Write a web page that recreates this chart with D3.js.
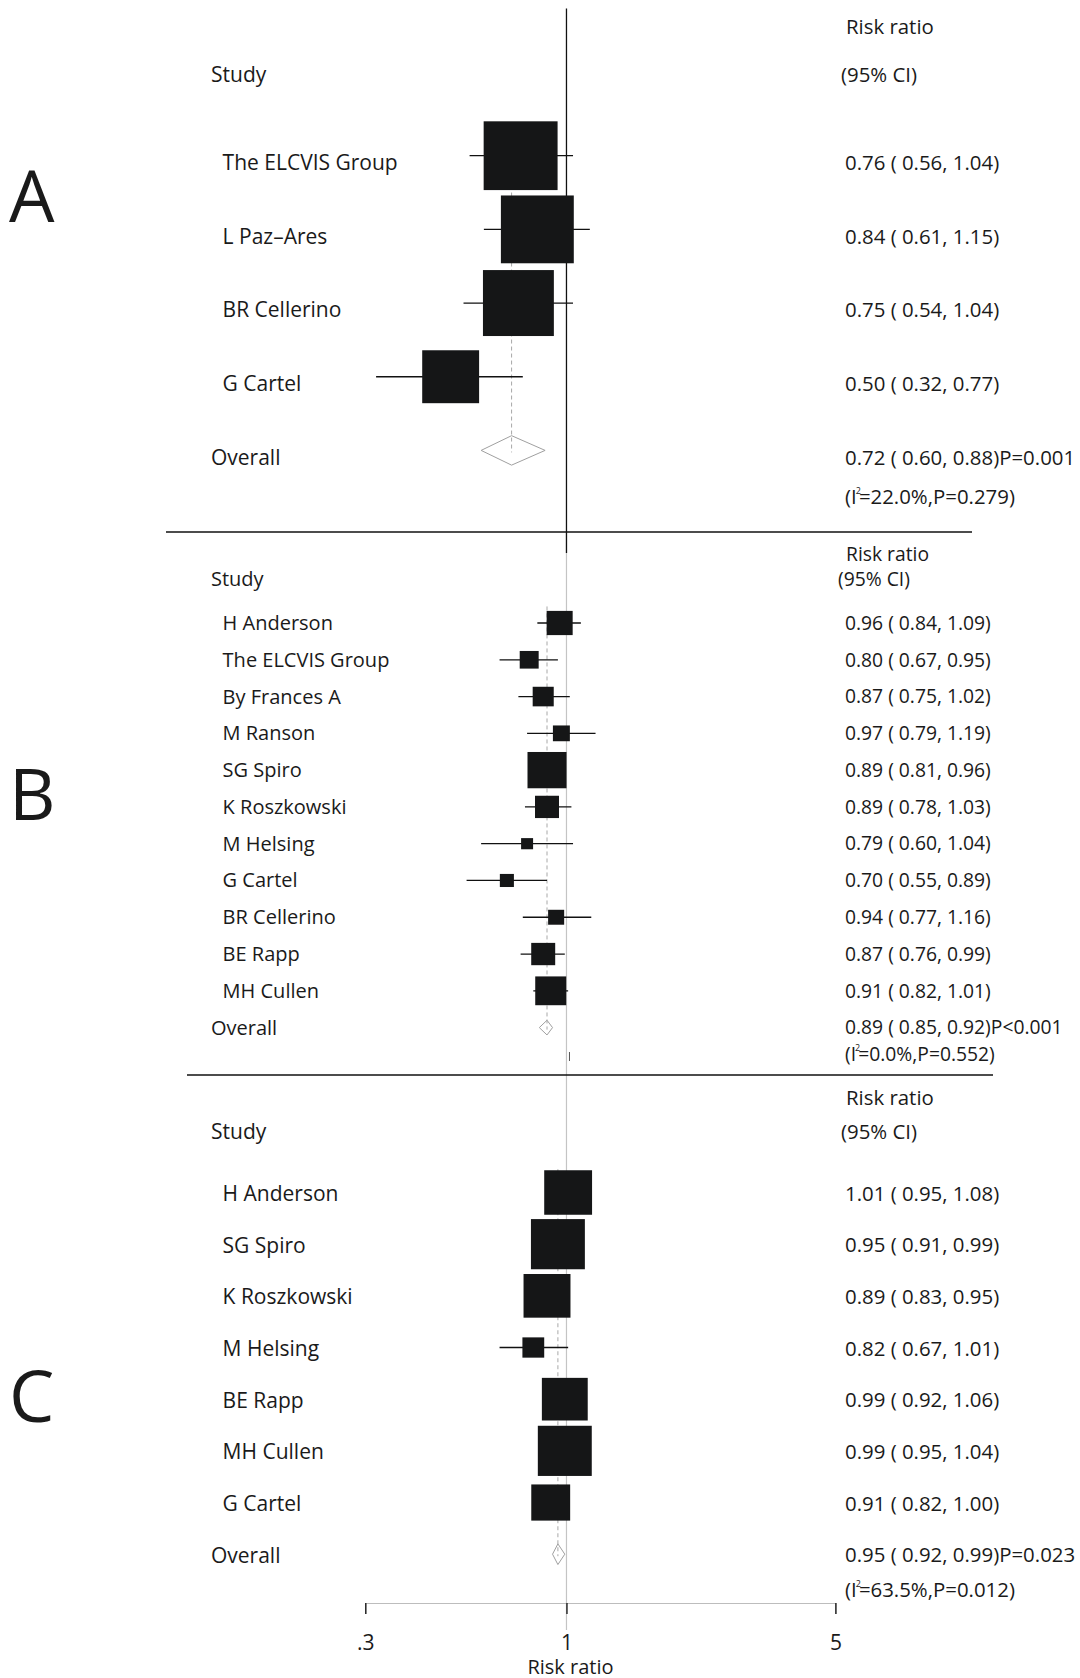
<!DOCTYPE html>
<html>
<head>
<meta charset="utf-8">
<script src="https://cdn.jsdelivr.net/npm/d3@7"></script>
<style>
  html, body { margin: 0; padding: 0; background: #fff; }
  svg { display: block; }
  text { font-family: "Open Sans", "Noto Sans", sans-serif; fill: #1a1a1a; }
</style>
</head>
<body>
<svg id="chart" width="1080" height="1678"></svg>
<script>
// ---- Data -----------------------------------------------------------------
// Panel A
const studiesA = ["The ELCVIS Group", "L Paz\u2013Ares", "BR Cellerino", "G Cartel"];
const rrA      = [0.76, 0.84, 0.75, 0.50];
const lowA     = [0.56, 0.61, 0.54, 0.32];
const highA    = [1.04, 1.15, 1.04, 0.77];
const weightA  = [28.7, 27.9, 26.4, 17.0];
const overallA = [0.72, 0.60, 0.88];
const pA = "P=0.001", i2A = "22.0%", hetPA = "0.279";

// Panel B
const studiesB = ["H Anderson", "The ELCVIS Group", "By Frances A", "M Ranson", "SG Spiro",
                  "K Roszkowski", "M Helsing", "G Cartel", "BR Cellerino", "BE Rapp", "MH Cullen"];
const rrB      = [0.96, 0.80, 0.87, 0.97, 0.89, 0.89, 0.79, 0.70, 0.94, 0.87, 0.91];
const lowB     = [0.84, 0.67, 0.75, 0.79, 0.81, 0.78, 0.60, 0.55, 0.77, 0.76, 0.82];
const highB    = [1.09, 0.95, 1.02, 1.19, 0.96, 1.03, 1.04, 0.89, 1.16, 0.99, 1.01];
const weightB  = [11.3, 6.0, 7.4, 4.8, 25.4, 9.6, 2.4, 3.3, 4.3, 9.6, 16.0];
const overallB = [0.89, 0.85, 0.92];
const pB = "P<0.001", i2B = "0.0%", hetPB = "0.552";

// Panel C
const studiesC = ["H Anderson", "SG Spiro", "K Roszkowski", "M Helsing", "BE Rapp", "MH Cullen", "G Cartel"];
const rrC      = [1.01, 0.95, 0.89, 0.82, 0.99, 0.99, 0.91];
const lowC     = [0.95, 0.91, 0.83, 0.67, 0.92, 0.95, 0.82];
const highC    = [1.08, 0.99, 0.95, 1.01, 1.06, 1.04, 1.00];
const weightC  = [15.9, 20.2, 15.3, 3.3, 14.6, 20.2, 10.5];
const overallC = [0.95, 0.92, 0.99];
const pC = "P=0.023", i2C = "63.5%", hetPC = "0.012";

// Shared axis
const xTicks = [0.3, 1, 5];
const xTickLabels = [".3", "1", "5"];
const axisTitle = "Risk ratio";

// ---- Layout ---------------------------------------------------------------
const svg = d3.select("#chart");
const x = d3.scaleLog().domain([0.3, 5]).range([365.3, 835.4]);
const fmt = d3.format(".2f");

const panels = [
  { letter: "A", letterY: 222, studies: studiesA, rr: rrA, low: lowA, high: highA, w: weightA,
    overall: overallA, p: pA, i2: i2A, hetP: hetPA,
    riskY: 27, studyY: 75, ciX: 841, firstY: 155.7, overallY: 450.4, textDy: 7, hetY: 497,
    fontSize: 21, valSize: 20.4, boxK: 13.8 },
  { letter: "B", letterY: 820, studies: studiesB, rr: rrB, low: lowB, high: highB, w: weightB,
    overall: overallB, p: pB, i2: i2B, hetP: hetPB,
    riskY: 554.5, studyY: 579, ciX: 838, firstY: 623, overallY: 1027.6, textDy: 0, hetY: 1054.3,
    fontSize: 20, valSize: 19.3, boxK: 7.74 },
  { letter: "C", letterY: 1422, studies: studiesC, rr: rrC, low: lowC, high: highC, w: weightC,
    overall: overallC, p: pC, i2: i2C, hetP: hetPC,
    riskY: 1098, studyY: 1131.4, ciX: 841, firstY: 1192.5, overallY: 1554.2, textDy: 1, hetY: 1590,
    fontSize: 21, valSize: 20.4, boxK: 12.0 }
];

const labelX = 222.6, headX = 211, valX = 845;
const boxAspect = 1.075;

// Reference lines at RR = 1
svg.append("line")
  .attr("x1", x(1)).attr("x2", x(1)).attr("y1", 532).attr("y2", 1630)
  .attr("stroke", "#c4c4c4").attr("stroke-width", 1.2);
svg.append("line")
  .attr("x1", x(1)).attr("x2", x(1)).attr("y1", 8.6).attr("y2", 553)
  .attr("stroke", "#111").attr("stroke-width", 1.3);
// stray tick left from the middle panel's axis
svg.append("line")
  .attr("x1", x(1) + 3).attr("x2", x(1) + 3).attr("y1", 1052).attr("y2", 1061)
  .attr("stroke", "#555").attr("stroke-width", 1);

// Separators between panels
svg.append("line").attr("x1", 166).attr("x2", 972).attr("y1", 532).attr("y2", 532)
  .attr("stroke", "#111").attr("stroke-width", 1.3);
svg.append("line").attr("x1", 187).attr("x2", 993).attr("y1", 1075).attr("y2", 1075)
  .attr("stroke", "#111").attr("stroke-width", 1.3);

panels.forEach(pn => {
  const g = svg.append("g");
  const rows = pn.studies.concat(["Overall"]);
  const y = d3.scalePoint().domain(rows).range([pn.firstY, pn.overallY]);
  const step = y.step();
  const fs = pn.fontSize, vs = pn.valSize;

  // Panel letter
  g.append("text").attr("x", 9).attr("y", pn.letterY)
    .style("font-size", "72px").text(pn.letter);

  // Column headers
  g.append("text").attr("x", headX).attr("y", pn.studyY).attr("dy", "0.35em")
    .style("font-size", fs + "px").text("Study");
  g.append("text").attr("x", valX + 1).attr("y", pn.riskY).attr("dy", "0.35em")
    .style("font-size", vs + "px").text("Risk ratio");
  g.append("text").attr("x", pn.ciX).attr("y", pn.studyY).attr("dy", "0.35em")
    .style("font-size", vs + "px").text("(95% CI)");

  // Dashed line at the pooled estimate
  g.append("line")
    .attr("x1", x(pn.overall[0])).attr("x2", x(pn.overall[0]))
    .attr("y1", pn.firstY - step * 0.45).attr("y2", pn.overallY + 2)
    .attr("stroke", "#a8a8a8").attr("stroke-width", 1).attr("stroke-dasharray", "4,3");

  const idx = d3.range(pn.studies.length);

  // Confidence intervals
  g.selectAll("line.ci").data(idx).join("line").attr("class", "ci")
    .attr("x1", i => x(pn.low[i])).attr("x2", i => x(pn.high[i]))
    .attr("y1", i => y(pn.studies[i])).attr("y2", i => y(pn.studies[i]))
    .attr("stroke", "#111").attr("stroke-width", 1.3);

  // Weight boxes
  g.selectAll("rect.box").data(idx).join("rect").attr("class", "box")
    .attr("x", i => x(pn.rr[i]) - pn.boxK * Math.sqrt(pn.w[i]) / 2)
    .attr("width", i => pn.boxK * Math.sqrt(pn.w[i]))
    .attr("y", i => y(pn.studies[i]) - pn.boxK * Math.sqrt(pn.w[i]) / boxAspect / 2)
    .attr("height", i => pn.boxK * Math.sqrt(pn.w[i]) / boxAspect)
    .attr("fill", "#151617");

  // Pooled diamond
  const oy = y("Overall"), h = step * 0.2;
  g.append("path")
    .attr("d", `M${x(pn.overall[1])},${oy} L${x(pn.overall[0])},${oy - h} L${x(pn.overall[2])},${oy} L${x(pn.overall[0])},${oy + h} Z`)
    .attr("fill", "none").attr("stroke", "#a0a0a0").attr("stroke-width", 1);

  // Study labels and estimates
  g.selectAll("text.study").data(idx).join("text").attr("class", "study")
    .attr("x", labelX).attr("y", i => y(pn.studies[i]) + pn.textDy).attr("dy", "0.35em")
    .style("font-size", fs + "px").text(i => pn.studies[i]);
  g.selectAll("text.val").data(idx).join("text").attr("class", "val")
    .attr("x", valX).attr("y", i => y(pn.studies[i]) + pn.textDy).attr("dy", "0.35em")
    .style("font-size", vs + "px")
    .text(i => `${fmt(pn.rr[i])} ( ${fmt(pn.low[i])}, ${fmt(pn.high[i])})`);

  g.append("text").attr("x", headX).attr("y", oy + pn.textDy).attr("dy", "0.35em")
    .style("font-size", fs + "px").text("Overall");
  g.append("text").attr("x", valX).attr("y", oy + pn.textDy).attr("dy", "0.35em")
    .style("font-size", vs + "px")
    .text(`${fmt(pn.overall[0])} ( ${fmt(pn.overall[1])}, ${fmt(pn.overall[2])})${pn.p}`);

  // Heterogeneity line with I² superscript
  const het = g.append("text").attr("x", valX).attr("y", pn.hetY).attr("dy", "0.35em")
    .style("font-size", vs + "px");
  het.append("tspan").text("(I");
  het.append("tspan").attr("dy", -10).attr("dx", -1).style("font-size", "9px").text("2");
  het.append("tspan").attr("dy", 10).attr("dx", -2).text(`=${pn.i2},P=${pn.hetP})`);
});

// Bottom axis
const axisY = 1603;
const axis = svg.append("g").attr("transform", `translate(0,${axisY})`)
  .call(d3.axisBottom(x).tickValues(xTicks).tickFormat((d, i) => xTickLabels[i]).tickSize(11).tickPadding(21));
axis.select(".domain").attr("stroke", "#bdbdbd").attr("stroke-width", 1.2);
axis.selectAll(".tick line").attr("stroke", "#111").attr("stroke-width", 1.3);
axis.selectAll(".tick text").style("font-size", "21px").style("font-family", "'Open Sans', sans-serif")
  .attr("fill", "#1a1a1a");
svg.append("text").attr("x", x(1) + 4).attr("y", 1667).attr("dy", "0.35em")
  .attr("text-anchor", "middle").style("font-size", "20px").text(axisTitle);
</script>
</body>
</html>
